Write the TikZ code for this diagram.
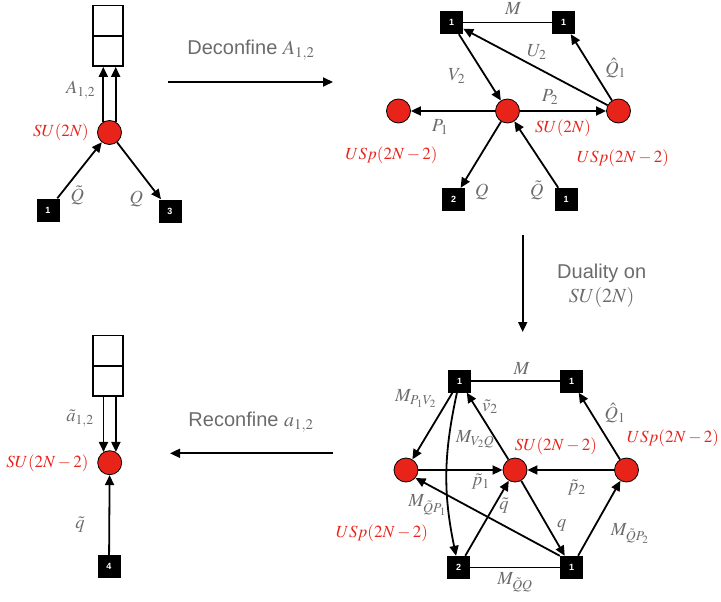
\documentclass[tikz,border=0pt]{standalone}
\usepackage{mathptmx}
\usepackage{fontspec}
\setsansfont{Liberation Sans}
\usetikzlibrary{arrows.meta}
\definecolor{qred}{HTML}{E8231A}
\definecolor{lgray}{HTML}{6B6B6B}
\begin{document}
\begin{tikzpicture}[x=1pt,y=-1pt,
 gauge/.style={circle,draw=black,line width=0.8pt,fill=qred,minimum size=24pt,inner sep=0pt},
 flav/.style={rectangle,fill=black,text=white,minimum size=23pt,inner sep=0pt,font=\sffamily\bfseries\fontsize{9}{9}\selectfont},
 ybox/.style={rectangle,draw=black,line width=1.8pt,minimum size=30pt,inner sep=0pt},
 arr/.style={line width=1.8pt,-{Triangle[length=10pt,width=9pt]}},
 ln/.style={line width=1.4pt},
 lab/.style={text=lgray,font=\fontsize{18.5}{20}\selectfont,inner sep=0pt},
 rlab/.style={text=qred,font=\fontsize{17}{19}\selectfont,inner sep=0pt},
 stxt/.style={text=lgray,font=\sffamily\fontsize{20}{22}\selectfont,align=center},
]
\useasboundingbox (0,0) rectangle (721,602);

% ---------- top left ----------
\node[ybox] (tlA) at (108,20.5) {};
\node[ybox] (tlB) at (108,51) {};
\node[gauge] (tlG) at (109.5,132.5) {};
\node[flav] (tl1) at (48,210) {1};
\node[flav] (tl3) at (170,211) {3};
\draw[arr] (tlG.120) -- (tlG.120 |- tlB.south);
\draw[arr] (tlG.60) -- (tlG.60 |- tlB.south);
\draw[arr] (tl1) -- (tlG);
\draw[arr] (tlG) -- (tl3);
\node[lab] (tlLA) at (80.7,90) {$A_{1,2}$};
\node[rlab,anchor=east] (tlLSU) at (89,132) {$SU(2N)$};
\node[lab] (tlLQt) at (77.3,195) {$\tilde Q$};
\node[lab] (tlLQ) at (136.3,199) {$Q$};

% ---------- deconfine arrow ----------
\coordinate (dA) at (168,82);
\coordinate (dB) at (333,82);
\draw[arr] (dA) -- (dB);
\node[stxt] (dT) at (251,50) {Deconfine $A_{1,2}$};

% ---------- top right ----------
\node[flav] (a1) at (451.5,22.5) {1};
\node[flav] (a2) at (563.5,22.5) {1};
\node[gauge] (aL) at (398.5,111) {};
\node[gauge] (aC) at (507.5,111) {};
\node[gauge] (aR) at (618.5,111) {};
\node[flav] (a3) at (453.5,199.5) {2};
\node[flav] (a4) at (566,199.5) {1};
\draw[ln] (a1) -- (a2);
\draw[arr] (a1) -- (aC);
\draw[arr] (aR) -- (a1);
\draw[arr] (aR) -- (a2);
\draw[arr] (aC) -- (aL);
\draw[arr] (aC) -- (aR);
\draw[arr] (aC) -- (a3);
\draw[arr] (a4) -- (aC);
\node[lab] (aLM) at (513.3,8.3) {$M$};
\node[lab] (aLU) at (536.7,52.3) {$U_2$};
\node[lab] (aLV) at (456.7,76) {$V_2$};
\node[lab] (aLQh) at (615.7,68.3) {$\hat Q_1$};
\node[lab] (aLP2) at (550,97.3) {$P_2$};
\node[lab] (aLP1) at (440,126.7) {$P_1$};
\node[lab] (aLQ) at (481.7,191.7) {$Q$};
\node[lab] (aLQt) at (536.7,190) {$\tilde Q$};
\node[rlab] (aRSU) at (563,128.3) {$SU(2N)$};
\node[rlab] (aRUR) at (623,158) {$USp(2N-2)$};
\node[rlab] (aRUL) at (391.5,155) {$USp(2N-2)$};

% ---------- duality arrow ----------
\coordinate (uA) at (522.7,235);
\coordinate (uB) at (522.7,332);
\draw[arr] (uA) -- (uB);
\node[stxt] (uT) at (601.7,273) {Duality on};
\node[stxt] (uT2) at (601.7,297) {$SU(2N)$};

% ---------- bottom right ----------
\node[flav] (b1) at (459.5,381) {1};
\node[flav] (b2) at (571.5,381) {1};
\node[gauge] (bL) at (406,470) {};
\node[gauge] (bC) at (515,470) {};
\node[gauge] (bR) at (626.5,470) {};
\node[flav] (b3) at (458.5,567.5) {2};
\node[flav] (b4) at (571.5,567.5) {1};
\draw[ln] (b1) -- (b2);
\draw[ln] (b3) -- (b4);
\draw[arr] (b1) -- (bL);
\draw[arr] (b1) to[bend right=12] (b3);
\draw[arr] (bC) -- (b1);
\draw[arr] (bR) -- (b2);
\draw[arr] (bL) -- (bC);
\draw[arr] (bR) -- (bC);
\draw[arr] (b4.north west) -- (bL.-40);
\draw[arr] (b3) -- (bC);
\draw[arr] (bC) -- (b4);
\draw[arr] (b4) -- (bR);
\node[lab] (bLM) at (521.7,368.3) {$M$};
\node[lab] (bLPV) at (415.8,398.3) {$M_{P_1V_2}$};
\node[lab] (bLVQ) at (475,439) {$M_{V_2Q}$};
\node[lab] (bLv) at (490,406.7) {$\tilde v_2$};
\node[lab] (bLQh) at (615,413.3) {$\hat Q_1$};
\node[lab] (bLp1) at (480.7,482) {$\tilde p_1$};
\node[lab] (bLp2) at (576.7,487.7) {$\tilde p_2$};
\node[lab] (bLQP1) at (427.3,505) {$M_{\tilde QP_1}$};
\node[lab] (bLqt) at (504,505.7) {$\tilde q$};
\node[lab] (bLq) at (561.7,525) {$q$};
\node[lab] (bLQP2) at (630,533.3) {$M_{\tilde QP_2}$};
\node[lab] (bLQQ) at (515,582.3) {$M_{\tilde QQ}$};
\node[rlab] (bRSU) at (556,446.7) {$SU(2N-2)$};
\node[rlab] (bRUR) at (673,438.3) {$USp(2N-2)$};
\node[rlab] (bRUL) at (382,533.3) {$USp(2N-2)$};

% ---------- reconfine arrow ----------
\coordinate (rA) at (333,453.3);
\coordinate (rB) at (170,453.3);
\draw[arr] (rA) -- (rB);
\node[stxt] (rT) at (251,421.7) {Reconfine $a_{1,2}$};

% ---------- bottom left ----------
\node[ybox] (blA) at (108.3,350.5) {};
\node[ybox] (blB) at (108.3,381.3) {};
\node[gauge] (blG) at (109.7,462.7) {};
\node[flav] (bl4) at (109,566.7) {4};
\draw[arr] (blG.120 |- blB.south) -- (blG.120);
\draw[arr] (blG.60 |- blB.south) -- (blG.60);
\draw[arr] (bl4) -- (blG);
\node[lab] (blLa) at (80,418.3) {$\tilde a_{1,2}$};
\node[lab] (blLq) at (80,525) {$\tilde q$};
\node[rlab] (blRSU) at (47.5,463.3) {$SU(2N-2)$};
\end{tikzpicture}
\end{document}
